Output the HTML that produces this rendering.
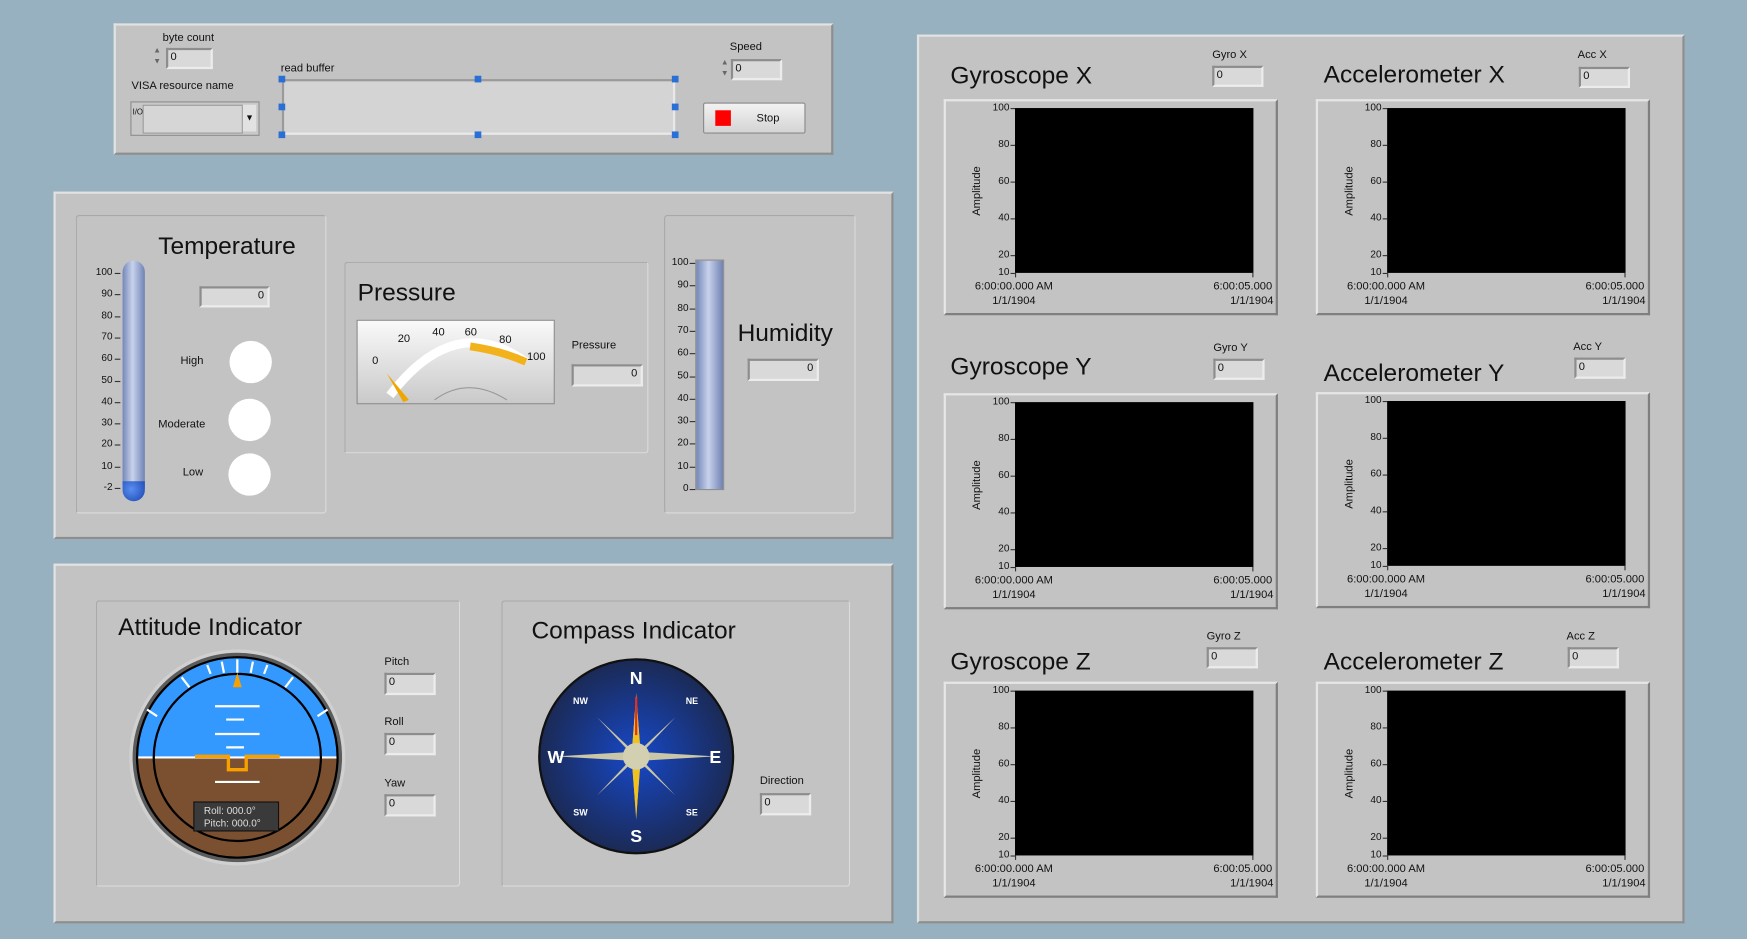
<!DOCTYPE html>
<html><head><meta charset="utf-8">
<style>
html,body{margin:0;padding:0;width:1747px;height:939px;overflow:hidden;background:#97b1c1;}
#root{position:absolute;left:0;top:0;width:1568px;height:843px;transform:scale(1.11416,1.11388);transform-origin:0 0;font-family:"Liberation Sans",sans-serif;color:#111;}
.a{position:absolute;}
.panel{position:absolute;background:#c3c3c3;border:2px solid;border-color:#e2e2e2 #8e8e8e #8e8e8e #e2e2e2;box-sizing:border-box;}
.sub{position:absolute;border:1px solid;border-color:#a8a8a8 #dcdcdc #dcdcdc #a8a8a8;border-radius:3px;box-sizing:border-box;}
.inp{position:absolute;background:#d9d9d9;border:2px solid;border-color:#8d8d8d #ececec #ececec #8d8d8d;box-sizing:border-box;font-size:10px;line-height:14px;padding-left:2px;}
.lbl{position:absolute;font-size:10px;white-space:nowrap;}
.title{position:absolute;font-size:22px;white-space:nowrap;}
.frame{position:absolute;background:#c3c3c3;border:2px solid;border-color:#e6e6e6 #7f7f7f #7f7f7f #e6e6e6;box-sizing:border-box;}
.plot{position:absolute;background:#000;}
.tick{position:absolute;font-size:9px;text-align:right;width:30px;}
</style></head><body>
<div id="root">

<!-- Panel 1 -->
<div class="panel" style="left:102px;top:21px;width:646px;height:118px;"></div>
<div class="lbl" style="left:146px;top:29px;">byte count</div>
<div class="a" style="left:135px;top:41px;width:12px;height:21px;font-size:7px;color:#666;line-height:10px;text-align:center;">▲<br>▼</div>
<div class="inp" style="left:149px;top:43px;width:42px;height:19px;">0</div>
<div class="lbl" style="left:118px;top:72px;">VISA resource name</div>
<div class="a" style="left:117px;top:91px;width:116px;height:31px;background:#c8c8c8;border:1px solid #8e8e8e;box-sizing:border-box;">
 <div class="a" style="left:1px;top:6px;font-size:7px;">I/O</div>
 <div class="a" style="left:10px;top:2px;width:88px;height:24px;background:#d6d6d6;border:1px solid #9a9a9a;"></div>
 <div class="a" style="left:100px;top:2px;width:12px;height:24px;background:#e2e2e2;font-size:8px;text-align:center;line-height:24px;">▼</div>
</div>
<div class="lbl" style="left:252px;top:56px;">read buffer</div>
<div class="a" style="left:253px;top:71px;width:353px;height:50px;background:#d4d4d4;border:2px solid;border-color:#9a9a9a #e8e8e8 #e8e8e8 #9a9a9a;box-sizing:border-box;"></div>
<div class="a" style="left:250px;top:68px;width:6px;height:6px;background:#2a6fd6;"></div>
<div class="a" style="left:426px;top:68px;width:6px;height:6px;background:#2a6fd6;"></div>
<div class="a" style="left:603px;top:68px;width:6px;height:6px;background:#2a6fd6;"></div>
<div class="a" style="left:250px;top:93px;width:6px;height:6px;background:#2a6fd6;"></div>
<div class="a" style="left:603px;top:93px;width:6px;height:6px;background:#2a6fd6;"></div>
<div class="a" style="left:250px;top:118px;width:6px;height:6px;background:#2a6fd6;"></div>
<div class="a" style="left:426px;top:118px;width:6px;height:6px;background:#2a6fd6;"></div>
<div class="a" style="left:603px;top:118px;width:6px;height:6px;background:#2a6fd6;"></div>
<div class="lbl" style="left:655px;top:37px;">Speed</div>
<div class="a" style="left:645px;top:52px;width:11px;height:20px;font-size:7px;color:#666;line-height:10px;text-align:center;">▲<br>▼</div>
<div class="inp" style="left:656px;top:53px;width:46px;height:19px;">0</div>
<div class="a" style="left:631px;top:92px;width:92px;height:28px;background:linear-gradient(#f2f2f2,#d4d4d4);border:1px solid #8a8a8a;box-sizing:border-box;border-radius:2px;">
 <div class="a" style="left:10px;top:6px;width:14px;height:14px;background:#f00;"></div>
 <div class="a" style="left:47px;top:8px;font-size:10px;">Stop</div>
</div>

<!-- Panel 2 -->
<div class="panel" style="left:48px;top:172px;width:754px;height:312px;"></div>
<div class="sub" style="left:68px;top:193px;width:225px;height:268px;"></div>
<div class="title" style="left:142px;top:208px;">Temperature</div>
<div class="a" style="left:110px;top:234px;width:20px;height:205px;border-radius:10px 10px 0 0;background:linear-gradient(90deg,#7487b8,#c8d2ec 45%,#6f82b3);"></div>
<div class="a" style="left:110px;top:432px;width:20px;height:18px;border-radius:0 0 10px 10px;background:radial-gradient(circle at 40% 40%,#5a8ef0,#1744b0);"></div>
<div class="inp" style="left:179px;top:257px;width:63px;height:19px;text-align:right;padding-right:3px;">0</div>
<div class="lbl" style="left:162px;top:319px;">High</div>
<div class="lbl" style="left:142px;top:376px;">Moderate</div>
<div class="lbl" style="left:164px;top:419px;">Low</div>
<div class="a" style="left:206px;top:306px;width:38px;height:38px;border-radius:50%;background:#fff;"></div>
<div class="a" style="left:205px;top:358px;width:38px;height:38px;border-radius:50%;background:#fff;"></div>
<div class="a" style="left:205px;top:407px;width:38px;height:38px;border-radius:50%;background:#fff;"></div>

<div class="sub" style="left:309px;top:235px;width:273px;height:172px;"></div>
<div class="title" style="left:321px;top:250px;">Pressure</div>
<svg class="a" style="left:320px;top:287px;" width="178" height="76">
 <defs><linearGradient id="gg" x1="0" y1="0" x2="0" y2="1"><stop offset="0" stop-color="#fafafa"/><stop offset="1" stop-color="#c9c9c9"/></linearGradient></defs>
 <rect x="0.5" y="0.5" width="177" height="75" fill="url(#gg)" stroke="#8a8a8a"/>
 <path d="M30 68 Q88 -8 152 38" fill="none" stroke="#fff" stroke-width="8"/>
 <path d="M102 24 Q130 28 152 38" fill="none" stroke="#f2b21b" stroke-width="7"/>
 <path d="M70 72 Q100 50 135 72" fill="none" stroke="#999" stroke-width="1"/>
 <polygon points="27,48 47,72 42,74" fill="#f0a600"/>
 <g font-size="10" font-family="Liberation Sans" fill="#111"><text x="14" y="40">0</text><text x="37" y="20">20</text><text x="68" y="14">40</text><text x="97" y="14">60</text><text x="128" y="21">80</text><text x="153" y="36">100</text></g>
</svg>
<div class="lbl" style="left:513px;top:305px;">Pressure</div>
<div class="inp" style="left:513px;top:327px;width:64px;height:20px;text-align:right;padding-right:3px;">0</div>

<div class="sub" style="left:596px;top:193px;width:172px;height:268px;"></div>
<div class="a" style="left:624px;top:233px;width:26px;height:207px;background:linear-gradient(90deg,#7487b8,#c8d2ec 45%,#6f82b3);border:1px solid #8e8e8e;box-sizing:border-box;"></div>
<div class="title" style="left:662px;top:286px;">Humidity</div>
<div class="inp" style="left:671px;top:322px;width:64px;height:20px;text-align:right;padding-right:3px;">0</div>

<!-- Panel 3 -->
<div class="panel" style="left:48px;top:506px;width:754px;height:323px;"></div>
<div class="sub" style="left:86px;top:539px;width:327px;height:257px;"></div>
<div class="title" style="left:106px;top:550px;">Attitude Indicator</div>
<svg class="a" style="left:113px;top:580px;" width="200" height="200">
 <defs><clipPath id="ic"><circle cx="100" cy="100" r="90"/></clipPath></defs>
 <circle cx="100" cy="100" r="97" fill="#d0d0d0"/>
 <circle cx="100" cy="100" r="94" fill="#5c5c5c"/>
 <g clip-path="url(#ic)"><rect x="0" y="0" width="200" height="100" fill="#3399ff"/><rect x="0" y="100" width="200" height="100" fill="#7b5030"/>
 <line x1="0" y1="100" x2="200" y2="100" stroke="#fff" stroke-width="2"/></g>
 <circle cx="100" cy="100" r="90" fill="none" stroke="#000" stroke-width="2"/>
 <circle cx="100" cy="100" r="75" fill="none" stroke="#000" stroke-width="2"/>
 <g stroke="#fff" stroke-width="2"><line x1="100" y1="12" x2="100" y2="24"/><line x1="86" y1="14" x2="88" y2="24"/><line x1="114" y1="14" x2="112" y2="24"/><line x1="73" y1="17" x2="76" y2="25"/><line x1="127" y1="17" x2="124" y2="25"/><line x1="50" y1="28" x2="57" y2="37"/><line x1="150" y1="28" x2="143" y2="37"/><line x1="19" y1="57" x2="28" y2="63"/><line x1="181" y1="57" x2="172" y2="63"/>
 <line x1="80" y1="54" x2="120" y2="54"/><line x1="90" y1="66" x2="106" y2="66"/><line x1="80" y1="79" x2="120" y2="79"/><line x1="90" y1="91" x2="106" y2="91"/><line x1="80" y1="122" x2="120" y2="122"/></g>
 <polygon points="100,24 96,37 104,37" fill="#f7a000"/>
 <path d="M62 99 H92 V111 H108 V99 H138" fill="none" stroke="#f7a000" stroke-width="3"/>
 <rect x="61" y="140" width="76" height="26" fill="#3a3a3a" stroke="#111"/>
 <text x="70" y="151" font-size="9" fill="#ddd" font-family="Liberation Sans">Roll:  000.0°</text>
 <text x="70" y="162" font-size="9" fill="#ddd" font-family="Liberation Sans">Pitch: 000.0°</text>
</svg>
<div class="lbl" style="left:345px;top:589px;">Pitch</div>
<div class="inp" style="left:345px;top:604px;width:46px;height:20px;">0</div>
<div class="lbl" style="left:345px;top:643px;">Roll</div>
<div class="inp" style="left:345px;top:658px;width:46px;height:20px;">0</div>
<div class="lbl" style="left:345px;top:698px;">Yaw</div>
<div class="inp" style="left:345px;top:713px;width:46px;height:20px;">0</div>

<div class="sub" style="left:450px;top:539px;width:313px;height:257px;"></div>
<div class="title" style="left:477px;top:553px;">Compass Indicator</div>
<svg class="a" style="left:482px;top:590px;" width="178" height="178">
 <defs><radialGradient id="cg"><stop offset="0" stop-color="#1748c8"/><stop offset="1" stop-color="#1b2a55"/></radialGradient></defs>
 <circle cx="89" cy="89" r="87" fill="url(#cg)" stroke="#111" stroke-width="2"/>
 <g fill="#c9c7a7"><polygon points="89,89 85,85 89,35 93,85"/><polygon points="89,89 93,93 89,143 85,93"/><polygon points="89,89 85,93 17,89 85,85"/><polygon points="89,89 93,85 160,89 93,93"/>
 <polygon points="89,89 86,84 54,54 84,86"/><polygon points="89,89 94,86 124,54 92,84"/><polygon points="89,89 84,92 54,124 86,94"/><polygon points="89,89 92,94 124,124 94,92"/></g>
 <polygon points="89,32 85,89 93,89" fill="#f2c21a"/><polygon points="89,146 85,89 93,89" fill="#f2c21a"/>
 <line x1="89" y1="36" x2="89" y2="70" stroke="#e03020" stroke-width="2"/>
 <circle cx="89" cy="89" r="12" fill="#d2d0b0"/>
 <g fill="#fff" font-family="Liberation Sans" font-weight="bold" text-anchor="middle"><text x="89" y="24" font-size="16">N</text><text x="89" y="166" font-size="16">S</text><text x="17" y="95" font-size="16">W</text><text x="160" y="95" font-size="16">E</text>
 <text x="39" y="42" font-size="8">NW</text><text x="139" y="42" font-size="8">NE</text><text x="39" y="142" font-size="8">SW</text><text x="139" y="142" font-size="8">SE</text></g>
</svg>
<div class="lbl" style="left:682px;top:696px;">Direction</div>
<div class="inp" style="left:682px;top:712px;width:46px;height:20px;">0</div>

<!-- Panel 4 -->
<div class="panel" style="left:823px;top:31px;width:689px;height:798px;"></div>
</div>

<script>
// Chart data (no samples acquired yet)
const yTicks = [100, 80, 60, 40, 20, 10];
const yMin = 10, yMax = 100;
const xTickLabels = ["6:00:00.000 AM", "6:00:05.000 AM"];
const xDateLabels = ["1/1/1904", "1/1/1904"];
const gyroXValues = [];
const gyroYValues = [];
const gyroZValues = [];
const accXValues = [];
const accYValues = [];
const accZValues = [];
const tempTicks = [100, 90, 80, 70, 60, 50, 40, 30, 20, 10, -2];
const humTicks = [100, 90, 80, 70, 60, 50, 40, 30, 20, 10, 0];

const root = document.getElementById('root');
function mk(cls, css, txt){const d=document.createElement('div');d.className=cls;d.style.cssText=css;if(txt!==undefined)d.textContent=txt;root.appendChild(d);return d;}

tempTicks.forEach((v,i)=>{
  const y = 245 + i*(438-245)/(tempTicks.length-1);
  const t = mk('tick', `left:73px;top:${y-6}px;width:28px;`, v);
  
  
  mk('a', `left:103px;top:${y}px;width:5px;height:1px;background:#333;`);
});
humTicks.forEach((v,i)=>{
  const y = 236 + i*(439-236)/(humTicks.length-1);
  const t = mk('tick', `left:588px;top:${y-6}px;width:30px;`, v);
  
  
  mk('a', `left:619px;top:${y}px;width:5px;height:1px;background:#333;`);
});

const charts = [
 {name:'gyroscope-x', title:'Gyroscope X', lab:'Gyro X', tx:853, ty:55, lx:1088, ly:44, ix:1088, iy:59, fx:847, fy:89, data:gyroXValues},
 {name:'accelerometer-x', title:'Accelerometer X', lab:'Acc  X', tx:1188, ty:54, lx:1416, ly:44, ix:1417, iy:60, fx:1181, fy:89, data:accXValues},
 {name:'gyroscope-y', title:'Gyroscope Y', lab:'Gyro Y', tx:853, ty:316, lx:1089, ly:307, ix:1089, iy:322, fx:847, fy:353, data:gyroYValues},
 {name:'accelerometer-y', title:'Accelerometer Y', lab:'Acc  Y', tx:1188, ty:322, lx:1412, ly:306, ix:1413, iy:321, fx:1181, fy:352, data:accYValues},
 {name:'gyroscope-z', title:'Gyroscope Z', lab:'Gyro Z', tx:853, ty:581, lx:1083, ly:566, ix:1083, iy:581, fx:847, fy:612, data:gyroZValues},
 {name:'accelerometer-z', title:'Accelerometer Z', lab:'Acc  Z', tx:1188, ty:581, lx:1406, ly:566, ix:1407, iy:581, fx:1181, fy:612, data:accZValues},
];
charts.forEach(c=>{
  const t = mk('title', `left:${c.tx}px;top:${c.ty}px;`, c.title);
  
  
  const l = mk('lbl', `left:${c.lx}px;top:${c.ly}px;font-size:10px;`, c.lab);
  
  
  const inp = mk('inp', `left:${c.ix}px;top:${c.iy}px;width:46px;height:19px;`, '0');
  
  
  const f = mk('frame', `left:${c.fx}px;top:${c.fy}px;width:300px;height:194px;`);
  
  
  const px = c.fx+64, py = c.fy+8, pw = 214, ph = 148;
  const p = mk('plot', `left:${px}px;top:${py}px;width:${pw}px;height:${ph}px;`);
  
  
  const yScale = v => py + ph - (v - yMin)/(yMax - yMin)*ph;
  yTicks.forEach(v=>{
    const y = yScale(v);
    const tk = mk('tick', `left:${px-35}px;top:${y-6}px;`, v);
    
    
    mk('a', `left:${px-4}px;top:${y}px;width:4px;height:1px;background:#333;`);
  });
  const at = mk('lbl', `left:${c.fx+8}px;top:${c.fy+77}px;font-size:10px;transform:rotate(-90deg);transform-origin:center;`, 'Amplitude');
  
  
  const x0 = mk('lbl', `left:${c.fx+28}px;top:${py+ph+6}px;font-size:10px;line-height:13px;text-align:center;`, '');
  x0.innerHTML = xTickLabels[0]+'<br>'+xDateLabels[0];
  
  
  const x1 = mk('lbl', `left:${c.fx+242}px;top:${py+ph+6}px;width:54px;overflow:hidden;font-size:10px;line-height:13px;text-align:right;`, '');
  x1.innerHTML = xTickLabels[1]+'<br>'+xDateLabels[1];
  
  
  mk('a', `left:${px}px;top:${py+ph}px;width:1px;height:4px;background:#333;`);
  mk('a', `left:${px+pw-1}px;top:${py+ph}px;width:1px;height:4px;background:#333;`);
  c.data.forEach((v,i)=>{
    const pt = mk('a', `left:${px + i/(Math.max(c.data.length-1,1))*pw}px;top:${yScale(v)}px;width:2px;height:2px;background:#fff;`);
    
    
  });
});
</script>
</body></html>
